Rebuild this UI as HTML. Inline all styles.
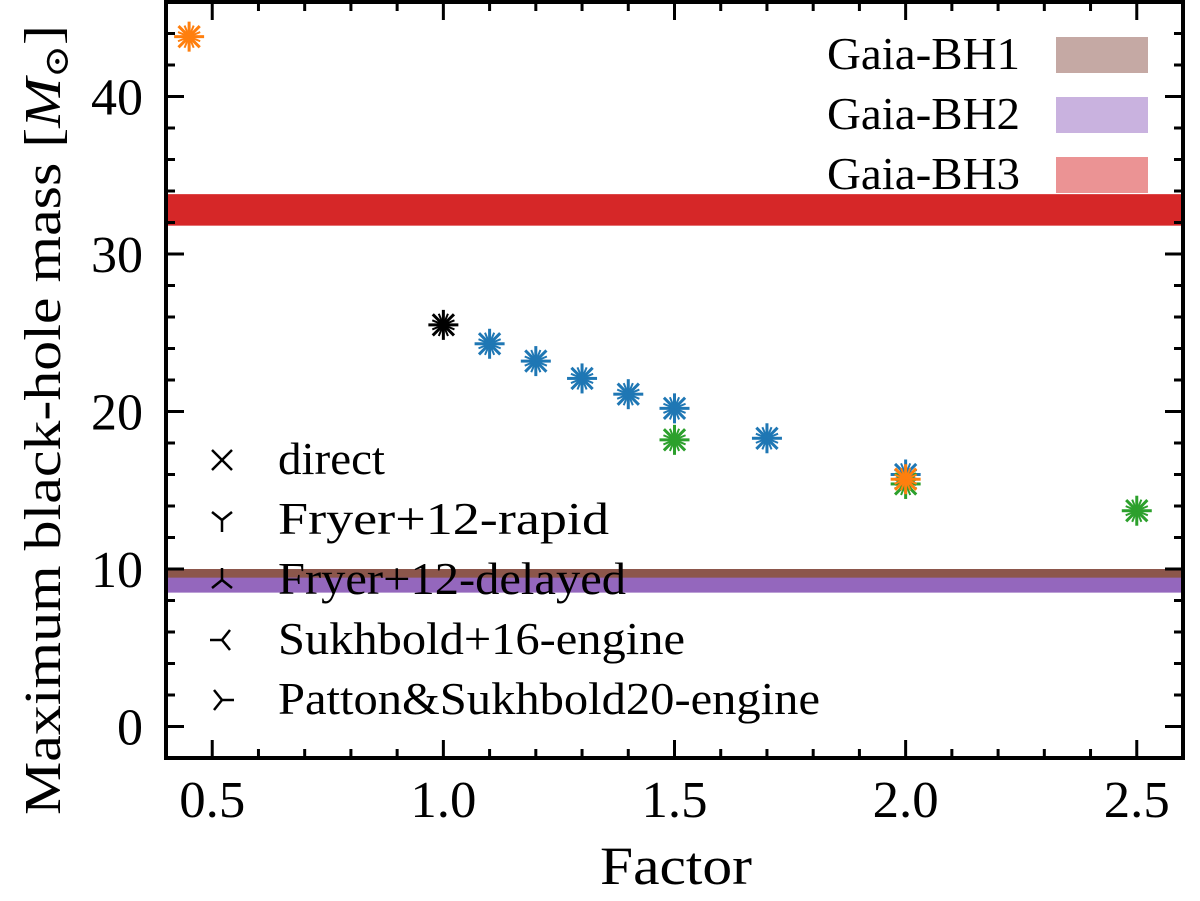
<!DOCTYPE html>
<html><head><meta charset="utf-8"><style>
body{margin:0;background:#fff}
svg text{font-family:"Liberation Serif","DejaVu Serif",serif;fill:#000}
</style></head><body>
<svg id="c" width="1200" height="896" viewBox="0 0 1200 896">
<g id="bands"></g><g id="marks"></g><g id="axes"></g><g id="legend"></g>
</svg>
<script>
const factorsOrange=[0.45,2.0];
const massOrange=[43.8,15.7];
const factorsBlack=[1.0];
const massBlack=[25.5];
const factorsBlue=[1.1,1.2,1.3,1.4,1.5,1.7,2.0];
const massBlue=[24.3,23.2,22.1,21.1,20.2,18.3,16.0];
const factorsGreen=[1.5,2.0,2.5];
const massGreen=[18.2,15.4,13.7];
const bandNames=["Gaia-BH1","Gaia-BH2","Gaia-BH3"];
const bandLo=[9.3,8.5,31.8];
const bandHi=[10.0,9.45,33.8];
const xTicks=[0.5,1.0,1.5,2.0,2.5];
const xTickLabels=["0.5","1.0","1.5","2.0","2.5"];
const yTicks=[0,10,20,30,40];
const yTickLabels=["0","10","20","30","40"];
const markerNames=["direct","Fryer+12-rapid","Fryer+12-delayed","Sukhbold+16-engine","Patton&Sukhbold20-engine"];

const L=166,R=1183,T=2,B=758,x0=0.4,x1=2.6,y0=-2,y1=46;
const X=v=>L+(v-x0)/(x1-x0)*(R-L);
const Y=v=>B-(v-y0)/(y1-y0)*(B-T);
const NS="http://www.w3.org/2000/svg";
function mk(tag,parent,attrs){const e=document.createElementNS(NS,tag);for(const k in attrs)e.setAttribute(k,attrs[k]);parent.appendChild(e);return e;}
const bands=document.getElementById('bands'),marks=document.getElementById('marks'),axes=document.getElementById('axes'),leg=document.getElementById('legend');
const bandCols=["#8c564b","#9467bd","#d62728"];
for(let i=0;i<3;i++){
  const r=mk('rect',bands,{x:L,y:Y(bandHi[i]),width:R-L,height:Y(bandLo[i])-Y(bandHi[i]),fill:bandCols[i]});
  
  
}
function star(cx,cy,col,parent){
  const g=mk('g',parent,{stroke:col,'stroke-width':3,fill:'none'});
  const d=15;
  for(let a=0;a<360;a+=45){const t=a*Math.PI/180;mk('line',g,{x1:cx,y1:cy,x2:cx+d*Math.cos(t),y2:cy+d*Math.sin(t)});}
  for(let a=22.5;a<360;a+=45){const t=a*Math.PI/180;mk('line',g,{x1:cx,y1:cy,x2:cx+d*0.8*Math.cos(t),y2:cy+d*0.8*Math.sin(t),'stroke-width':2});}
  return g;
}
function series(xs,ys,col,name){
  xs.forEach((v,i)=>{const g=star(X(v),Y(ys[i]),col,marks);
    
    });
}
series(factorsBlue,massBlue,"#1f77b4","blue");
series(factorsGreen,massGreen,"#2ca02c","green");
series(factorsOrange,massOrange,"#ff7f0e","orange");
series(factorsBlack,massBlack,"#000","black");
const fr=mk('rect',axes,{x:L,y:T,width:R-L,height:B-T,fill:'none',stroke:'#000','stroke-width':4});


for(let v=0.4;v<=2.6001;v+=0.1){const x=X(v);const maj=Math.abs(v*2-Math.round(v*2))<1e-6;const l=maj?18:9;
  mk('line',axes,{x1:x,y1:B,x2:x,y2:B-l,stroke:'#000','stroke-width':3});
  mk('line',axes,{x1:x,y1:T,x2:x,y2:T+l,stroke:'#000','stroke-width':3});}
for(let v=-2;v<=46;v+=2){const y=Y(v);const maj=v%10===0;const l=maj?18:9;
  mk('line',axes,{x1:L,y1:y,x2:L+l,y2:y,stroke:'#000','stroke-width':3});
  mk('line',axes,{x1:R,y1:y,x2:R-l,y2:y,stroke:'#000','stroke-width':3});}
xTicks.forEach((v,i)=>{const t=mk('text',axes,{x:X(v),y:817,'text-anchor':'middle','font-size':52,textLength:66,lengthAdjust:'spacingAndGlyphs'});t.textContent=xTickLabels[i];
  
  });
yTicks.forEach((v,i)=>{const t=mk('text',axes,{x:143,y:Y(v)+18,'text-anchor':'end','font-size':52});t.textContent=yTickLabels[i];
  
  });
const xt=mk('text',axes,{x:676,y:884,'text-anchor':'middle','font-size':54,textLength:152,lengthAdjust:'spacingAndGlyphs'});xt.textContent="Factor";


const yt=mk('text',axes,{x:0,y:0,'text-anchor':'middle','font-size':52,textLength:790,lengthAdjust:'spacingAndGlyphs',transform:'translate(60,420) rotate(-90)'});
yt.innerHTML='Maximum black-hole mass [<tspan font-style="italic">M</tspan><tspan font-size="34" dy="8">⊙</tspan><tspan dy="-8">]</tspan>';


const swCols=["#c5a9a4","#c9b2df","#eb9394"];
for(let i=0;i<3;i++){const y=37+i*60;
  const s=mk('rect',leg,{x:1056,y:y,width:92,height:36,fill:swCols[i]});
  
  
  const t=mk('text',leg,{x:827,y:y+32,'font-size':46,textLength:193,lengthAdjust:'spacingAndGlyphs'});t.textContent=bandNames[i];
  
  }
const glyphs=[
 [[-10,-10,10,10],[-10,10,10,-10]],
 [[0,0,0,12],[0,0,-10,-8],[0,0,10,-8]],
 [[0,0,0,-12],[0,0,-10,8],[0,0,10,8]],
 [[0,0,-12,0],[0,0,8,-10],[0,0,8,10]],
 [[0,0,12,0],[0,0,-8,-10],[0,0,-8,10]]];
const labelW=[107,331,348,407,542];
for(let i=0;i<5;i++){const cy=460+i*60,cx=222;
  const g=mk('g',leg,{stroke:'#000','stroke-width':2.5});
  glyphs[i].forEach(s=>mk('line',g,{x1:cx+s[0],y1:cy+s[1],x2:cx+s[2],y2:cy+s[3]}));
  
  
  const t=mk('text',leg,{x:278,y:cy+14,'font-size':46,textLength:labelW[i],lengthAdjust:'spacingAndGlyphs'});t.textContent=markerNames[i];
  
  }
</script>
</body></html>
